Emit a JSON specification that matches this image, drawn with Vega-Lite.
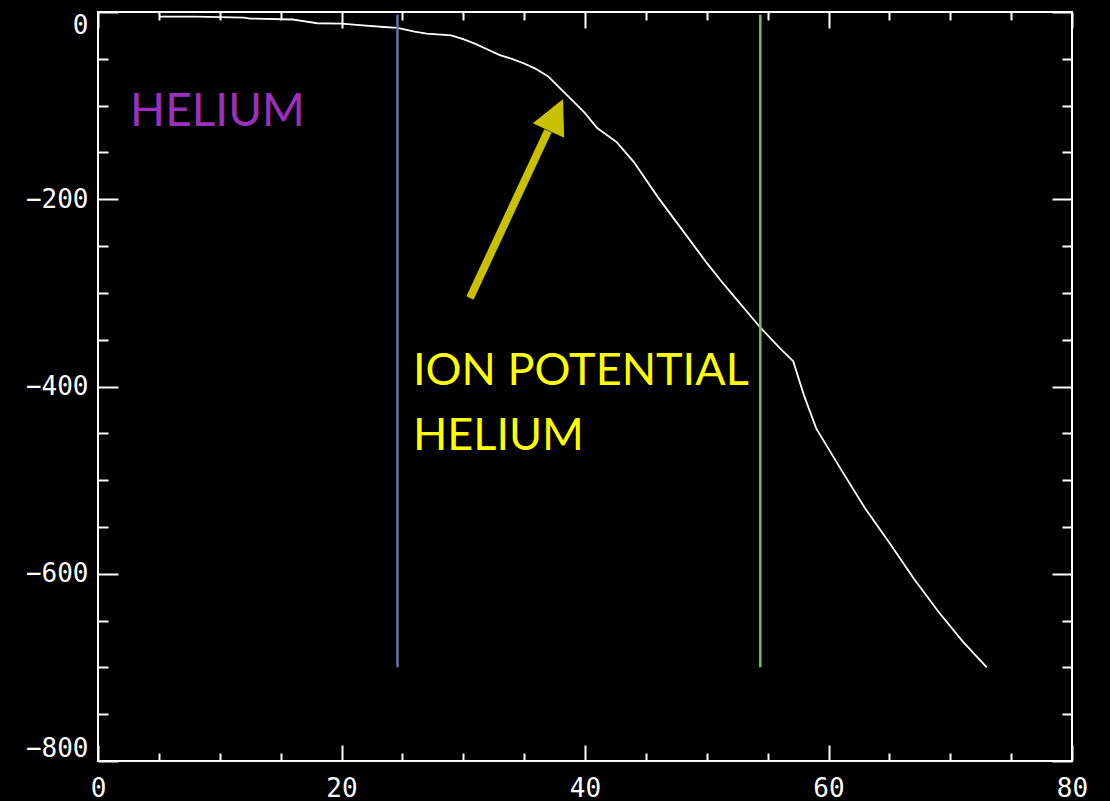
{
  "$schema": "https://vega.github.io/schema/vega-lite/v6.json",
  "autosize": {"type": "none"},
  "padding": {"left": 98, "top": 12, "right": 38, "bottom": 40},
  "width": 974,
  "height": 749,
  "background": "black",
  "config": {
    "view": {"stroke": "white", "strokeWidth": 2},
    "axis": {
      "domain": false,
      "grid": false,
      "title": null,
      "tickColor": "white",
      "tickWidth": 2,
      "labelColor": "white",
      "labelFont": "DejaVu Sans Mono",
      "labelFontSize": 26
    }
  },
  "resolve": {"axis": {"x": "independent", "y": "independent"}},
  "layer": [
    {
      "data": {"values": [
        {"e": 5, "v": -5}, {"e": 8, "v": -5}, {"e": 12, "v": -6}, {"e": 12.5, "v": -7},
        {"e": 16, "v": -8}, {"e": 17, "v": -10}, {"e": 18, "v": -12}, {"e": 20, "v": -12.5},
        {"e": 22, "v": -14.5}, {"e": 23.5, "v": -16}, {"e": 24.6, "v": -17}, {"e": 26, "v": -21},
        {"e": 27, "v": -23}, {"e": 29, "v": -25}, {"e": 30, "v": -29}, {"e": 31, "v": -34},
        {"e": 32, "v": -40}, {"e": 33, "v": -46}, {"e": 34, "v": -50}, {"e": 35, "v": -55},
        {"e": 36, "v": -61}, {"e": 37, "v": -69}, {"e": 38, "v": -82}, {"e": 39, "v": -95},
        {"e": 40, "v": -108}, {"e": 41, "v": -124}, {"e": 42.6, "v": -139}, {"e": 44, "v": -160},
        {"e": 46, "v": -198}, {"e": 48, "v": -233}, {"e": 50, "v": -268}, {"e": 51.1, "v": -286},
        {"e": 52, "v": -300}, {"e": 54.4, "v": -337}, {"e": 56, "v": -359}, {"e": 57.1, "v": -373},
        {"e": 58, "v": -410}, {"e": 59, "v": -445}, {"e": 61, "v": -488}, {"e": 63, "v": -530},
        {"e": 65, "v": -567}, {"e": 67, "v": -605}, {"e": 69, "v": -640}, {"e": 71, "v": -672},
        {"e": 73, "v": -700}
      ]},
      "mark": {"type": "line", "color": "white", "strokeWidth": 1.8},
      "encoding": {
        "x": {"field": "e", "type": "quantitative",
              "scale": {"domain": [0, 80], "nice": false, "zero": false},
              "axis": {"orient": "bottom", "values": [0, 20, 40, 60, 80], "tickSize": -16, "labelPadding": 30, "labelFlush": false}},
        "y": {"field": "v", "type": "quantitative",
              "scale": {"domain": [-800, 0], "nice": false, "zero": false},
              "axis": {"orient": "left", "values": [0, -200, -400, -600, -800], "tickSize": -20, "labelPadding": 30, "labelFlush": true}}
      }
    },
    {
      "data": {"values": [
        {"e": 24.6, "top": -3, "bot": -700, "series": "He I"},
        {"e": 54.4, "top": -3, "bot": -700, "series": "He II"}
      ]},
      "mark": {"type": "rule", "strokeWidth": 2.5},
      "encoding": {
        "x": {"field": "e", "type": "quantitative",
              "axis": {"orient": "bottom", "values": [5, 10, 15, 25, 30, 35, 45, 50, 55, 65, 70, 75], "tickSize": -8, "labels": false}},
        "y": {"field": "top", "type": "quantitative",
              "axis": {"orient": "left", "values": [-50, -100, -150, -250, -300, -350, -450, -500, -550, -650, -700, -750], "tickSize": -10, "labels": false}},
        "y2": {"field": "bot"},
        "color": {"field": "series", "type": "nominal",
                  "scale": {"domain": ["He I", "He II"], "range": ["#6A72B5", "#6CC05A"]},
                  "legend": null}
      }
    },
    {
      "data": {"values": [{"e": 2.63, "v": -121.8, "label": "HELIUM"}]},
      "mark": {"type": "text", "align": "left", "baseline": "alphabetic", "font": "Lato", "fontSize": 46, "color": "#9B30BE"},
      "encoding": {
        "x": {"field": "e", "type": "quantitative",
              "axis": {"orient": "top", "values": [0, 20, 40, 60, 80], "tickSize": -16, "labels": false}},
        "y": {"field": "v", "type": "quantitative",
              "axis": {"orient": "right", "values": [0, -200, -400, -600, -800], "tickSize": -20, "labels": false}},
        "text": {"field": "label"}
      }
    },
    {
      "data": {"values": [{"e": 30.55, "v": -305.5, "e2": 36.96, "v2": -127}]},
      "mark": {"type": "rule", "color": "#C9C000", "strokeWidth": 8, "strokeCap": "butt"},
      "encoding": {
        "x": {"field": "e", "type": "quantitative",
              "axis": {"orient": "top", "values": [5, 10, 15, 25, 30, 35, 45, 50, 55, 65, 70, 75], "tickSize": -8, "labels": false}},
        "y": {"field": "v", "type": "quantitative",
              "axis": {"orient": "right", "values": [-50, -100, -150, -250, -300, -350, -450, -500, -550, -650, -700, -750], "tickSize": -10, "labels": false}},
        "x2": {"field": "e2"},
        "y2": {"field": "v2"}
      }
    },
    {
      "data": {"values": [{"e": 37.6, "v": -109.8}]},
      "mark": {"type": "point", "shape": "M0,-1L1,1L-1,1Z", "size": 1200, "angle": 25, "filled": true, "color": "#C9C000", "opacity": 1},
      "encoding": {
        "x": {"field": "e", "type": "quantitative", "axis": null},
        "y": {"field": "v", "type": "quantitative", "axis": null}
      }
    },
    {
      "data": {"values": [
        {"e": 25.87, "v": -398.5, "label": "ION POTENTIAL"},
        {"e": 25.87, "v": -468, "label": "HELIUM"}
      ]},
      "mark": {"type": "text", "align": "left", "baseline": "alphabetic", "font": "Lato", "fontSize": 45, "color": "#FFFF00"},
      "encoding": {
        "x": {"field": "e", "type": "quantitative", "axis": null},
        "y": {"field": "v", "type": "quantitative", "axis": null},
        "text": {"field": "label"}
      }
    }
  ]
}
